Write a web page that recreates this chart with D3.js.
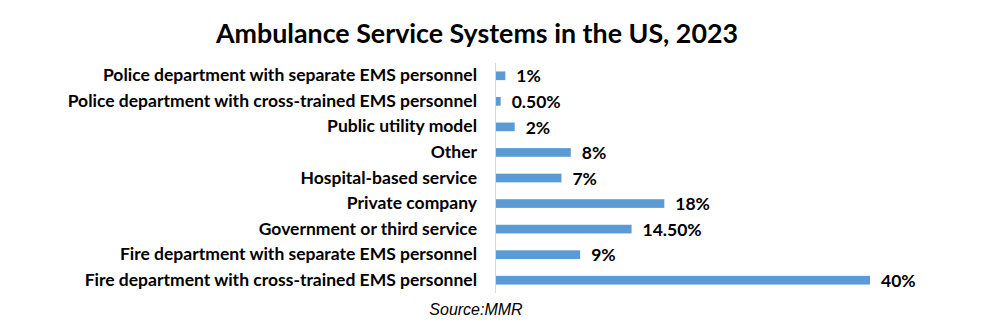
<!DOCTYPE html>
<html>
<head>
<meta charset="utf-8">
<script src="https://cdn.jsdelivr.net/npm/d3@7"></script>
<style>
  body { margin: 0; background: #fff; }
  svg { display: block; }
</style>
</head>
<body>
<svg id="chart"></svg>
<script>
// service types, top to bottom
const categories = [
    'Police department with separate EMS personnel',
    'Police department with cross-trained EMS personnel',
    'Public utility model',
    'Other',
    'Hospital-based service',
    'Private company',
    'Government or third service',
    'Fire department with separate EMS personnel',
    'Fire department with cross-trained EMS personnel',
]
const shares = [1, 0.5, 2, 8, 7, 18, 14.5, 9, 40]
const shareLabels = ['1%', '0.50%', '2%', '8%', '7%', '18%', '14.50%', '9%', '40%']

const width = 981
const height = 328
const margin = { top: 63, right: 112, bottom: 35, left: 495 }

const rows = categories.map((c, i) => ({ name: c, value: shares[i], label: shareLabels[i] }))

const svg = d3.select('#chart').attr('width', width).attr('height', height)

const xScale = d3.scaleLinear()
    .domain([0, 40])
    .range([margin.left, 869])

const yScale = d3.scaleBand()
    .domain(categories)
    .range([margin.top, 293])
    .paddingInner(0.66)
    .paddingOuter(0.33)

const font = 'Lato, "Open Sans", sans-serif'

// title
svg.append('text')
    .attr('x', 477)
    .attr('y', 43)
    .attr('text-anchor', 'middle')
    .style('font-family', font)
    .style('font-weight', 'bold')
    .style('font-size', '26.8px')
    .style('fill', '#000')
    .text('Ambulance Service Systems in the US, 2023')

// category axis
const yAxis = svg.append('g')
    .attr('transform', 'translate(' + margin.left + ',0)')
    .call(d3.axisLeft(yScale).tickSize(0).tickPadding(18))

yAxis.select('.domain')
    .attr('stroke', '#d9d9d9')
    .attr('d', 'M0.5,' + margin.top + 'V293')

yAxis.selectAll('text')
    .style('font-family', font)
    .style('font-weight', 'bold')
    .style('font-size', '17.5px')
    .style('fill', '#000')

svg.selectAll('rect.bar')
    .data(rows)
    .enter()
    .append('rect')
    .attr('class', 'bar')
    .attr('x', xScale(0) + 1)
    .attr('y', d => yScale(d.name))
    .attr('width', d => xScale(d.value) - xScale(0))
    .attr('height', yScale.bandwidth())
    .style('fill', '#5b9bd5')

svg.selectAll('text.val')
    .data(rows)
    .enter()
    .append('text')
    .attr('class', 'val')
    .attr('x', d => xScale(d.value) + 12)
    .attr('y', d => yScale(d.name) + yScale.bandwidth() / 2)
    .attr('dy', '0.38em')
    .style('font-family', font)
    .style('font-weight', 'bold')
    .style('font-size', '17.5px')
    .style('fill', '#000')
    .text(d => d.label)

svg.append('text')
    .attr('x', 476)
    .attr('y', 315)
    .attr('text-anchor', 'middle')
    .style('font-family', '"Liberation Sans", Arial, sans-serif')
    .style('font-style', 'italic')
    .style('font-size', '16px')
    .style('fill', '#000')
    .text('Source:MMR')
</script>
</body>
</html>
